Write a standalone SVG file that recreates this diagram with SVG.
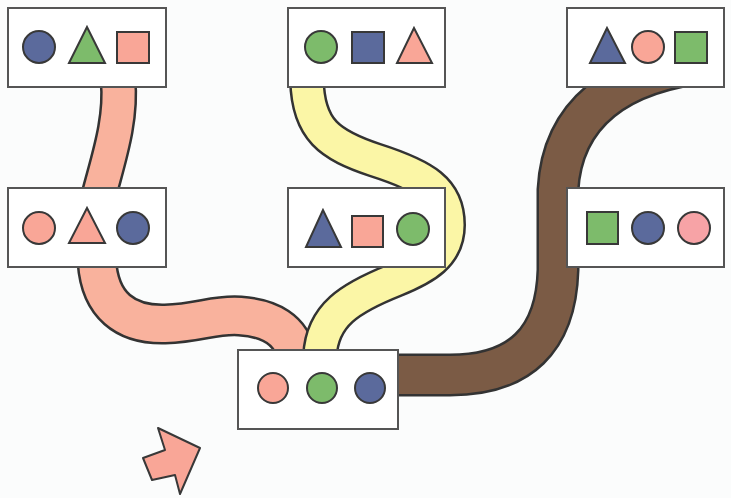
<svg xmlns="http://www.w3.org/2000/svg" width="731" height="498" viewBox="0 0 731 498">
<style>
.bg{fill:#fbfcfc}
.box{fill:#ffffff;stroke:#555555;stroke-width:2}
.sh{stroke:#383838;stroke-width:2}
.b{fill:#5b6a9c}
.g{fill:#7dbb6b}
.p{fill:#f9a697}
.tout{fill:none;stroke:#333333;stroke-linecap:butt}
.tin{fill:none;stroke-linecap:butt}
</style>
<rect class="bg" x="0" y="0" width="731" height="498"/>
<g id="connectors">
  <path class="tout" stroke-width="37" d="M118,80 C122,120 108,160 99,195"/>
  <path class="tin" stroke="#f9b29d" stroke-width="32" d="M118,80 C122,120 108,160 99,195"/>
  <path class="tout" stroke-width="41" d="M97,262 C100,305 125,325 165,324 C200,323 215,314 240,316 C270,318 292,330 296,356"/>
  <path class="tin" stroke="#f9b29d" stroke-width="36" d="M97,262 C100,305 125,325 165,324 C200,323 215,314 240,316 C270,318 292,330 296,356"/>
  <path class="tout" stroke-width="36" d="M307,80 C308,130 330,145 375,160 C425,176 448,190 448,225 C448,255 425,268 395,280 C350,298 322,315 320,356"/>
  <path class="tin" stroke="#fbf6a6" stroke-width="31" d="M307,80 C308,130 330,145 375,160 C425,176 448,190 448,225 C448,255 425,268 395,280 C350,298 322,315 320,356"/>
  <path class="tout" stroke-width="43" d="M710,62 C615,72 562,115 558,190 L558,270 C556,340 520,375 450,375 L392,375"/>
  <path class="tin" stroke="#7b5b45" stroke-width="38" d="M710,62 C615,72 562,115 558,190 L558,270 C556,340 520,375 450,375 L392,375"/>
</g>
<g id="node-top-left">
  <rect class="box" x="8" y="8" width="158" height="79"/>
  <circle class="sh b" cx="39" cy="47" r="16"/>
  <polygon class="sh g" points="87,27 69,63 105,63"/>
  <rect class="sh p" x="117" y="32" width="32" height="31"/>
</g>
<g id="node-top-middle">
  <rect class="box" x="288" y="8" width="157" height="79"/>
  <circle class="sh g" cx="321" cy="47" r="16"/>
  <rect class="sh b" x="352" y="32" width="32" height="31"/>
  <polygon class="sh p" points="414,28 397,63 432,63"/>
</g>
<g id="node-top-right">
  <rect class="box" x="567" y="8" width="157" height="79"/>
  <polygon class="sh b" points="607,28 590,63 625,63"/>
  <circle class="sh p" cx="648" cy="47" r="16"/>
  <rect class="sh g" x="675" y="32" width="32" height="31"/>
</g>
<g id="node-mid-left">
  <rect class="box" x="8" y="188" width="158" height="79"/>
  <circle class="sh p" cx="39" cy="228" r="16"/>
  <polygon class="sh p" points="87,208 69,243 105,243"/>
  <circle class="sh b" cx="133" cy="228" r="16"/>
</g>
<g id="node-mid-middle">
  <rect class="box" x="288" y="188" width="157" height="79"/>
  <polygon class="sh b" points="323,210 306,247 341,247"/>
  <rect class="sh p" x="352" y="216" width="31" height="31"/>
  <circle class="sh g" cx="413" cy="229" r="16"/>
</g>
<g id="node-mid-right">
  <rect class="box" x="567" y="188" width="157" height="79"/>
  <rect class="sh g" x="587" y="212" width="31" height="32"/>
  <circle class="sh b" cx="648" cy="228" r="16"/>
  <circle class="sh" fill="#f7a3a6" cx="694" cy="228" r="16"/>
</g>
<g id="node-bottom">
  <rect class="box" x="238" y="350" width="160" height="79"/>
  <circle class="sh p" cx="273" cy="388" r="15"/>
  <circle class="sh g" cx="322" cy="388" r="15"/>
  <circle class="sh b" cx="370" cy="388" r="15"/>
</g>
<g id="arrow">
  <polygon fill="#f9a697" stroke="#383838" stroke-width="2" stroke-linejoin="round" points="143,458 165,450 158,428 200,448 180,494 175,475 152,480"/>
</g>
</svg>
